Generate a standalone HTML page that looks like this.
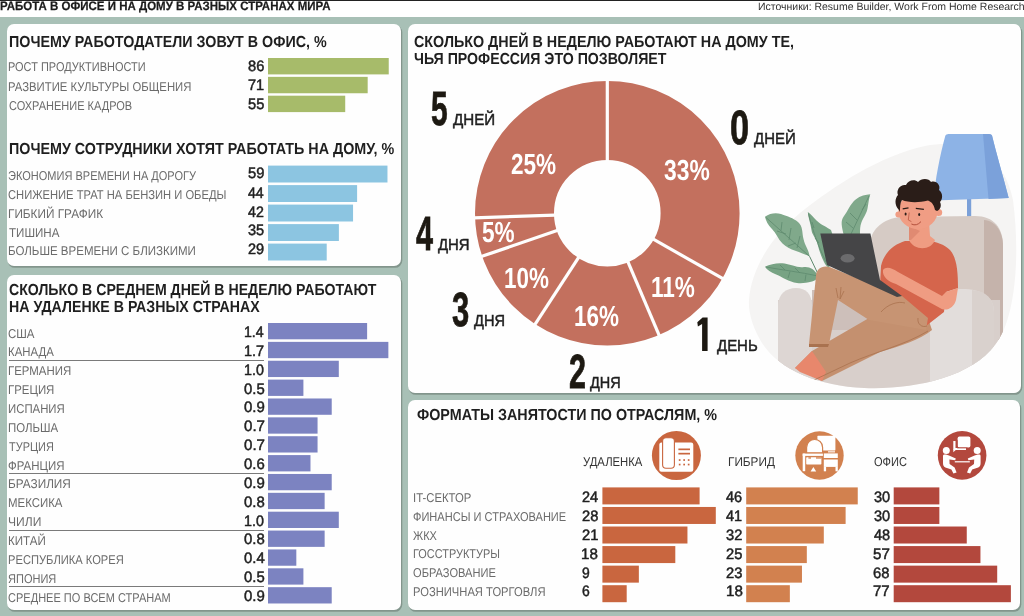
<!DOCTYPE html>
<html lang="ru"><head><meta charset="utf-8"><title>Работа в офисе и на дому</title><style>
html,body{margin:0;padding:0}
body{width:1024px;height:616px;position:relative;overflow:hidden;background:#fff;font-family:"Liberation Sans",sans-serif}
.bg{position:absolute;left:0;top:17px;width:1024px;height:599px;background:#a8c0b6}
.topline{position:absolute;left:0;top:0;width:1024px;height:1px;background:#222}
.p{position:absolute;background:#fefefe;border-radius:7px;box-shadow:0.9px 1.4px 0 0.4px #82958c}
.b{position:absolute}
.sep{position:absolute;height:1px;background:#7a7a7a}
.t{position:absolute;white-space:nowrap;transform-origin:0 0;display:block;text-rendering:geometricPrecision}
svg{position:absolute;left:0;top:0}
</style></head><body>
<div class="topline"></div><div class="bg"></div>
<div class="p" style="left:7px;top:23.5px;width:394.2px;height:242px"></div>
<div class="p" style="left:7px;top:274.5px;width:394.2px;height:335.4px"></div>
<div class="p" style="left:408px;top:23.7px;width:613px;height:369.4px"></div>
<div class="p" style="left:408px;top:399.7px;width:612.4px;height:210.2px"></div>
<div class="sep" style="left:9px;top:359.84px;width:254.8px"></div>
<div class="sep" style="left:9px;top:473.06px;width:254.8px"></div>
<div class="sep" style="left:9px;top:529.67px;width:254.8px"></div>
<div class="sep" style="left:9px;top:586.28px;width:254.8px"></div>
<svg width="1024" height="616" viewBox="0 0 1024 616">
<rect x="268.00" y="58.00" width="120.74" height="16.40" fill="#a7bb6a"/>
<rect x="268.00" y="76.85" width="99.68" height="16.40" fill="#a7bb6a"/>
<rect x="268.00" y="95.70" width="77.22" height="16.40" fill="#a7bb6a"/>
<rect x="268.00" y="165.60" width="119.47" height="16.90" fill="#8cc5e1"/>
<rect x="268.00" y="185.10" width="89.10" height="16.90" fill="#8cc5e1"/>
<rect x="268.00" y="204.60" width="85.05" height="16.90" fill="#8cc5e1"/>
<rect x="268.00" y="224.10" width="70.88" height="16.90" fill="#8cc5e1"/>
<rect x="268.00" y="243.60" width="58.72" height="16.90" fill="#8cc5e1"/>
<rect x="268.00" y="323.00" width="99.12" height="16.30" fill="#7c83c1"/>
<rect x="268.00" y="341.87" width="120.36" height="16.30" fill="#7c83c1"/>
<rect x="268.00" y="360.74" width="70.80" height="16.30" fill="#7c83c1"/>
<rect x="268.00" y="379.61" width="35.40" height="16.30" fill="#7c83c1"/>
<rect x="268.00" y="398.48" width="63.72" height="16.30" fill="#7c83c1"/>
<rect x="268.00" y="417.35" width="49.56" height="16.30" fill="#7c83c1"/>
<rect x="268.00" y="436.22" width="49.56" height="16.30" fill="#7c83c1"/>
<rect x="268.00" y="455.09" width="42.48" height="16.30" fill="#7c83c1"/>
<rect x="268.00" y="473.96" width="63.72" height="16.30" fill="#7c83c1"/>
<rect x="268.00" y="492.83" width="56.64" height="16.30" fill="#7c83c1"/>
<rect x="268.00" y="511.70" width="70.80" height="16.30" fill="#7c83c1"/>
<rect x="268.00" y="530.57" width="56.64" height="16.30" fill="#7c83c1"/>
<rect x="268.00" y="549.44" width="28.32" height="16.30" fill="#7c83c1"/>
<rect x="268.00" y="568.31" width="35.40" height="16.30" fill="#7c83c1"/>
<rect x="268.00" y="587.18" width="63.72" height="16.30" fill="#7c83c1"/>
<rect x="602.40" y="487.40" width="97.20" height="17.00" fill="#c9663f"/>
<rect x="746.20" y="487.40" width="111.55" height="17.00" fill="#d2814f"/>
<rect x="893.70" y="487.40" width="45.66" height="17.00" fill="#b3483d"/>
<rect x="602.40" y="506.96" width="113.40" height="17.00" fill="#c9663f"/>
<rect x="746.20" y="506.96" width="99.42" height="17.00" fill="#d2814f"/>
<rect x="893.70" y="506.96" width="45.66" height="17.00" fill="#b3483d"/>
<rect x="602.40" y="526.52" width="85.05" height="17.00" fill="#c9663f"/>
<rect x="746.20" y="526.52" width="77.60" height="17.00" fill="#d2814f"/>
<rect x="893.70" y="526.52" width="73.06" height="17.00" fill="#b3483d"/>
<rect x="602.40" y="546.08" width="72.90" height="17.00" fill="#c9663f"/>
<rect x="746.20" y="546.08" width="60.62" height="17.00" fill="#d2814f"/>
<rect x="893.70" y="546.08" width="86.75" height="17.00" fill="#b3483d"/>
<rect x="602.40" y="565.64" width="36.45" height="17.00" fill="#c9663f"/>
<rect x="746.20" y="565.64" width="55.77" height="17.00" fill="#d2814f"/>
<rect x="893.70" y="565.64" width="103.50" height="17.00" fill="#b3483d"/>
<rect x="602.40" y="585.20" width="24.30" height="17.00" fill="#c9663f"/>
<rect x="746.20" y="585.20" width="43.65" height="17.00" fill="#d2814f"/>
<rect x="893.70" y="585.20" width="117.19" height="17.00" fill="#b3483d"/>
<circle cx="607.3" cy="213.2" r="92.80000000000001" fill="none" stroke="#c3705e" stroke-width="79.00000000000001"/>
<line x1="607.30" y1="160.90" x2="607.30" y2="79.90" stroke="#fefefe" stroke-width="3.2"/>
<line x1="652.82" y1="238.95" x2="723.32" y2="278.84" stroke="#fefefe" stroke-width="3.2"/>
<line x1="627.74" y1="261.34" x2="659.38" y2="335.90" stroke="#fefefe" stroke-width="3.2"/>
<line x1="578.82" y1="257.06" x2="534.70" y2="324.99" stroke="#fefefe" stroke-width="3.2"/>
<line x1="557.85" y1="230.23" x2="481.26" y2="256.60" stroke="#fefefe" stroke-width="3.2"/>
<line x1="555.03" y1="215.03" x2="474.08" y2="217.85" stroke="#fefefe" stroke-width="3.2"/>
<path d="M702.6,317.6 L707.6,317.6 L707.6,350.9 L702.1,350.9 L702.1,324 L697.9,326.4 L697.3,322.2 Z" fill="#1d1912"/>
<g id="illus">
<defs><clipPath id="blobclip"><path d="M749,300 C751,270 770,238 800,213 C835,185 880,156 925,146 C965,139 1003,150 1013,200 C1021,262 1014,322 995,345 C970,378 912,390 864,388 C820,386 780,371 762,343 C754,330 748,314 749,300 Z"/></clipPath></defs>
<path d="M749,300 C751,270 770,238 800,213 C835,185 880,156 925,146 C965,139 1003,150 1013,200 C1021,262 1014,322 995,345 C970,378 912,390 864,388 C820,386 780,371 762,343 C754,330 748,314 749,300 Z" fill="#f5f4f3"/>
<!-- lamp -->
<rect x="967" y="198" width="4.2" height="22" fill="#7ba0d8"/>
<path d="M945.4,135.5 Q946,134 948.5,134 L989,134 Q991.5,134 992,135.5 C996,152 1003,176 1008.7,198 L933.6,200.6 C935,180 940,155 945.4,135.5 Z" fill="#8db3e6"/>
<path d="M983,134 L989,134 Q991.5,134 992,135.5 C996,152 1003,176 1008.7,198 L988.5,199 Z" fill="#7ba1da"/>
<!-- plant -->
<path d="M809.6,256.4 L818.5,275 M818.5,276 L822,288" stroke="#5e8a6e" stroke-width="1" fill="none"/>
<path d="M764.9,216.8 C770,213 776,212.5 781,214 C788,216.5 793,218 798,222 C803,226 802,233 803.5,239 C805,246 809,250 809.6,256.4 C804,254 800,252.5 796,251 C790,249 786,247 782.5,243.5 C778,239 776,233 772,229 C768,225 766,221 764.9,216.8 Z" fill="#80a98b"/>
<path d="M807.8,212 C811,214 813,217 816.5,220.5 C821,225 827,227 831,230 L836,245 L829,268 C826,266 825,264 824,262 C821,256 819,250 817.5,244 C816,238 812,235 811.4,229.6 C810.5,223 808,217 807.8,212 Z" fill="#78a384"/>
<path d="M870.3,194.3 C866,194.5 860,196 856,199.3 C850,204 848,211 844,216 C840,221 842,227 843.5,234 L860,234 C860,230 860,226 861.4,222.5 C863,218 867,213 867.6,208 C868.5,203 869,198 870.3,194.3 Z" fill="#80a98b"/>
<path d="M764.9,266.8 C771,264 778,262.5 784.6,263.6 C791,264.5 797,268 804,267 C810,266.5 814,269 818.5,276 C817,279 815,281 812,281.5 C806,283 802,283.5 797,283 C789,282 782,277 775.6,274.3 C771,272.5 767,270 764.9,266.8 Z" fill="#78a384"/>
<path d="M766,217.5 L809.6,256.4 M782,222 L781,230.5 M791,228 L789,240 M800,236 L797,248 M786,234 L777,231 M796,243 L788,246 M808.5,213.5 C812,228 818,246 826,262 M814,228 L812,222 M819,243 L815,238 M869,196 L851,234 M862,210 L866,204 M857,220 L850,213 M853,228 L846,222 M766,267 C782,270 800,272 818,276 M785,270 L780,265 M800,273 L795,268 M790,271.5 L788,278 M806,274.5 L805,281" stroke="#5e8a6e" stroke-width="0.8" fill="none"/>
<g clip-path="url(#blobclip)">
<!-- chair back -->
<path d="M870,300 L870,242 C872,228 884,219 900,217 L975,216 C994,216 1003,228 1003,246 L1003,340 L870,340 Z" fill="#d6cbc5"/>
<path d="M984,220 C996,221 1003,232 1003,246 L1003,340 L984,340 Z" fill="#c5b3ab"/>
<!-- chair seat/base -->
<path d="M778,300 L1000,300 L1000,400 L778,400 Z" fill="#d8cfcb"/>
<path d="M812,290 L880,290 L930,330 L812,330 Z" fill="#cdbfba"/>
<!-- left arm -->
<path d="M778,306 C778,294 786,288 796,288 C806,288 812,294 812,306 L812,400 L778,400 Z" fill="#ddd6d3"/>
<!-- right front arm -->
<path d="M930,312 C930,296 944,289 962,289 C982,289 994,297 994,312 L994,400 L930,400 Z" fill="#e2dddb"/>
<path d="M972,290 C986,291 994,299 994,312 L994,400 L972,400 Z" fill="#d9d1cd"/>
<!-- back leg (far) -->
<path d="M869,318 L926,312 L932,330 C920,340 900,346 880,352 L822,381 L795,368 L812,351 Z" fill="#c4906f"/>
<path d="M812,351 L795,368 L800,372 L822,381 L826,372 Z" fill="#e8876c"/>
<!-- torso -->
<path d="M905,241 C895,244 884,252 881,266 L880,285 L905,300 L926,326 L944,312 L946,292 L958,288 C958,272 957,258 950,250 C944,244 936,242 930,241 Z" fill="#d5654c"/>
<!-- neck & head -->
<path d="M909,224 L929,222 L930,236 L935,240 C931,251 914,251 909,240 L910,236 Z" fill="#ef9c82"/>
<path d="M909,226 L920,231 L911,240 L909,240 Z" fill="#e08a72"/>
<ellipse cx="918" cy="211" rx="19.6" ry="18.2" fill="#f09d84"/>
<circle cx="938.6" cy="212.5" r="3.6" fill="#f09d84"/>
<circle cx="898.4" cy="214.5" r="3" fill="#f09d84"/>
<path d="M899,210 C894,205 895,198 898,195 C896,190 900,184 906,185 C908,180 915,179 918,182 C921,178 929,178 931,182 C936,180 941,185 939,190 C943,193 943,199 940,202 C942,206 940,210 937,211 L935,210 C934,205 932,202 928,200.5 C918,203 908,202.5 902,200 C900,203 900,207 900,212 Z" fill="#2a1d18"/>
<path d="M902.7,208.9 L908.5,207.8 M915.8,208.3 L923.9,209.3" stroke="#2a1d18" stroke-width="1.2" fill="none"/>
<ellipse cx="905.6" cy="214" rx="1" ry="1.5" fill="#2a1d18"/><ellipse cx="919.2" cy="214.6" rx="1" ry="1.5" fill="#2a1d18"/>
<path d="M909.2,212.5 L908.3,220 L911.4,221.6" stroke="#c2604a" stroke-width="0.9" fill="none"/>
<path d="M911.4,224 Q916.5,226.6 921,221.6" stroke="#b3503c" stroke-width="1" fill="none"/>
<!-- front leg: thigh + shin -->
<path d="M816,276 C816,268 824,264 832,268 L902,296 L928,318 L926,330 L869,320 L838,300 L829,344 L809,344 Z" fill="#c79473"/>
<path d="M809,344 L829,344 L828,347 L809,347 Z" fill="#a9724f"/>
<path d="M928,331 C905,345 875,352 850,363 L812,381" stroke="#a9724f" stroke-width="0.8" fill="none"/>
<path d="M836,288 L838,298 M841,287 L840,299 L844,291" stroke="#a9724f" stroke-width="0.8" fill="none"/>
<path d="M881,312 C888,304 898,301 905,303 M918,318 C917,324 922,328 927,326" stroke="#a9724f" stroke-width="0.8" fill="none"/>
<!-- laptop -->
<path d="M820.3,233.6 L870.4,233.6 L880,280 L902,296 L897,297 L827,265 Z" fill="#454547"/>
<ellipse cx="847.6" cy="258.2" rx="7" ry="4.3" fill="#6b6b6d"/>
<!-- arm -->
<path d="M946,292 L958,288 L956,300 C954,308 946,312 940,308 L896,284 C888,282 882,276 883,270 C886,266 892,268 898,272 L942,296 Z" fill="#ef9c82"/>
</g>
</g>

<g id="icons">
<!-- icon 1: phone -->
<circle cx="676.4" cy="455.5" r="24.5" fill="#c9663f"/>
<rect x="659.3" y="442.6" width="34" height="29.2" rx="2.2" fill="#fff"/>
<rect x="662.6" y="437.8" width="11.8" height="30.4" rx="3.4" fill="#fff" stroke="#c9663f" stroke-width="1.1"/>
<rect x="678.4" y="448.5" width="11.6" height="1.7" fill="#c9663f"/>
<rect x="678.4" y="452.8" width="11.6" height="1.7" fill="#c9663f"/>
<g fill="#c9663f"><rect x="678.8" y="459.2" width="1.7" height="1.7"/><rect x="683.3" y="459.2" width="1.7" height="1.7"/><rect x="687.8" y="459.2" width="1.7" height="1.7"/><rect x="678.8" y="463.7" width="1.7" height="1.7"/><rect x="683.3" y="463.7" width="1.7" height="1.7"/><rect x="687.8" y="463.7" width="1.7" height="1.7"/></g>
<!-- icon 2: desk -->
<circle cx="819.5" cy="455.5" r="24.2" fill="#d2814f"/>
<g fill="#fff">
<rect x="817.4" y="435.8" width="18" height="14.6" rx="0.6"/>
<rect x="828" y="451.3" width="7" height="1.1"/>
<rect x="823.8" y="453.4" width="14" height="4.6"/>
<rect x="823.8" y="459.5" width="14" height="7.4"/>
<rect x="823.8" y="466.8" width="2.3" height="4.5"/><rect x="835.5" y="466.8" width="2.3" height="4.5"/>
<path d="M806.6,452.8 L806.6,447.6 C806.6,436.8 822.6,436.8 822.6,447.6 L822.6,452.8 Z" stroke="#d2814f" stroke-width="1.2"/>
<rect x="802.7" y="453.6" width="20.2" height="2.3"/>
<rect x="802.7" y="453.6" width="2.5" height="17.6"/>
<rect x="806.2" y="457.3" width="15.2" height="7.3" rx="0.8"/>
<path d="M813.4,467 L816.2,471.4 L810.6,471.4 Z"/>
</g>
<rect x="808.4" y="457.3" width="2.6" height="1.3" fill="#d2814f"/><rect x="816" y="457.3" width="5.4" height="1.3" fill="#d2814f"/>
<!-- icon 3: meeting -->
<circle cx="962.1" cy="455.4" r="24.3" fill="#b3483d"/>
<g fill="#fff">
<circle cx="946.3" cy="450.6" r="3.5"/><circle cx="977.2" cy="450.6" r="3.5"/>
<path d="M943,456 C943,454.6 944.4,454.4 946,454.6 L949,455.4 L955.8,458.4 L955.2,460.2 L949.4,459.6 L949.6,464 L954.6,467.6 L956.6,472.6 L953.4,473.6 L951.4,469.6 L945.4,467.4 C943.6,466.6 943,465 943,463 Z"/>
<path d="M980.6,456 C980.6,454.6 979.2,454.4 977.6,454.6 L974.6,455.4 L967.8,458.4 L968.4,460.2 L974.2,459.6 L974,464 L969,467.6 L967,472.6 L970.2,473.6 L972.2,469.6 L978.2,467.4 C980,466.6 980.6,465 980.6,463 Z"/>
<rect x="954.8" y="461.2" width="15" height="1.2"/>
<rect x="957.6" y="436.6" width="12.8" height="11" rx="1.8"/>
<path d="M954.4,441 L954.4,449 L966,449" fill="none" stroke="#fff" stroke-width="2.2" stroke-linejoin="round"/>
<path d="M953.3,449 L956.8,449 L953.3,452.2 Z"/>
<path d="M957.2,440.2 L957.2,447.9 L967.5,447.9" fill="none" stroke="#b3483d" stroke-width="0.9"/>
</g>
</g>

</svg>
<div id="txt" style="position:absolute;left:0;top:0;width:1024px;height:616px;will-change:transform"><span class="t" style="left:0.42px;top:0px;font-size:12.35px;line-height:12.35px;font-weight:700;color:#1a1a1a;transform:scaleX(0.9319);-webkit-text-stroke:0.25px #1f1f1f;">РАБОТА В ОФИСЕ И НА ДОМУ В РАЗНЫХ СТРАНАХ МИРА</span>
<span class="t" style="left:758.22px;top:3px;font-size:10.47px;line-height:10.47px;font-weight:400;color:#333;transform:scaleX(1.0019);">Источники: Resume Builder, Work From Home Research</span>
<span class="t" style="left:8.50px;top:35px;font-size:15.99px;line-height:15.99px;font-weight:700;color:#1f1f1f;transform:scaleX(0.8949);">ПОЧЕМУ РАБОТОДАТЕЛИ ЗОВУТ В ОФИС, %</span>
<span class="t" style="left:8.21px;top:61px;font-size:12.79px;line-height:12.79px;font-weight:400;color:#6b6b6b;transform:scaleX(0.8583);">РОСТ ПРОДУКТИВНОСТИ</span>
<span class="t" style="left:8.00px;top:81px;font-size:12.79px;line-height:12.79px;font-weight:400;color:#6b6b6b;transform:scaleX(0.8852);">РАЗВИТИЕ КУЛЬТУРЫ ОБЩЕНИЯ</span>
<span class="t" style="left:8.50px;top:100px;font-size:12.79px;line-height:12.79px;font-weight:400;color:#6b6b6b;transform:scaleX(0.8609);">СОХРАНЕНИЕ КАДРОВ</span>
<span class="t" style="left:247.69px;top:59px;font-size:15.14px;line-height:15.14px;font-weight:400;color:#1f1f1f;transform:scaleX(0.9711);-webkit-text-stroke:0.5px #1f1f1f;">86</span>
<span class="t" style="left:247.62px;top:78px;font-size:15.14px;line-height:15.14px;font-weight:400;color:#1f1f1f;transform:scaleX(0.9615);-webkit-text-stroke:0.5px #1f1f1f;">71</span>
<span class="t" style="left:247.54px;top:97px;font-size:15.14px;line-height:15.14px;font-weight:400;color:#1f1f1f;transform:scaleX(0.9671);-webkit-text-stroke:0.5px #1f1f1f;">55</span>
<span class="t" style="left:8.70px;top:142px;font-size:15.99px;line-height:15.99px;font-weight:700;color:#1f1f1f;transform:scaleX(0.8951);">ПОЧЕМУ СОТРУДНИКИ ХОТЯТ РАБОТАТЬ НА ДОМУ, %</span>
<span class="t" style="left:7.98px;top:170px;font-size:12.79px;line-height:12.79px;font-weight:400;color:#6b6b6b;transform:scaleX(0.8621);">ЭКОНОМИЯ ВРЕМЕНИ НА ДОРОГУ</span>
<span class="t" style="left:8.47px;top:189px;font-size:12.79px;line-height:12.79px;font-weight:400;color:#6b6b6b;transform:scaleX(0.8751);">СНИЖЕНИЕ ТРАТ НА БЕНЗИН И ОБЕДЫ</span>
<span class="t" style="left:8.00px;top:208px;font-size:12.79px;line-height:12.79px;font-weight:400;color:#6b6b6b;transform:scaleX(0.9232);">ГИБКИЙ ГРАФИК</span>
<span class="t" style="left:8.64px;top:227px;font-size:12.79px;line-height:12.79px;font-weight:400;color:#6b6b6b;transform:scaleX(0.9055);">ТИШИНА</span>
<span class="t" style="left:8.00px;top:245px;font-size:12.79px;line-height:12.79px;font-weight:400;color:#6b6b6b;transform:scaleX(0.9021);">БОЛЬШЕ ВРЕМЕНИ С БЛИЗКИМИ</span>
<span class="t" style="left:247.53px;top:166px;font-size:15.14px;line-height:15.14px;font-weight:400;color:#1f1f1f;transform:scaleX(0.9725);-webkit-text-stroke:0.5px #1f1f1f;">59</span>
<span class="t" style="left:247.98px;top:186px;font-size:15.14px;line-height:15.14px;font-weight:400;color:#1f1f1f;transform:scaleX(0.9344);-webkit-text-stroke:0.5px #1f1f1f;">44</span>
<span class="t" style="left:248.00px;top:205px;font-size:15.14px;line-height:15.14px;font-weight:400;color:#1f1f1f;transform:scaleX(0.9389);-webkit-text-stroke:0.5px #1f1f1f;">42</span>
<span class="t" style="left:247.74px;top:223px;font-size:15.14px;line-height:15.14px;font-weight:400;color:#1f1f1f;transform:scaleX(0.9613);-webkit-text-stroke:0.5px #1f1f1f;">35</span>
<span class="t" style="left:247.65px;top:242px;font-size:15.14px;line-height:15.14px;font-weight:400;color:#1f1f1f;transform:scaleX(0.9610);-webkit-text-stroke:0.5px #1f1f1f;">29</span>
<span class="t" style="left:9.48px;top:283px;font-size:15.99px;line-height:15.99px;font-weight:700;color:#1f1f1f;transform:scaleX(0.8837);">СКОЛЬКО В СРЕДНЕМ ДНЕЙ В НЕДЕЛЮ РАБОТАЮТ</span>
<span class="t" style="left:9.00px;top:300px;font-size:15.99px;line-height:15.99px;font-weight:700;color:#1f1f1f;transform:scaleX(0.8870);">НА УДАЛЕНКЕ В РАЗНЫХ СТРАНАХ</span>
<span class="t" style="left:8.47px;top:328px;font-size:12.79px;line-height:12.79px;font-weight:400;color:#6b6b6b;transform:scaleX(0.9009);">США</span>
<span class="t" style="left:244.30px;top:325px;font-size:15.14px;line-height:15.14px;font-weight:400;color:#1f1f1f;transform:scaleX(0.9351);-webkit-text-stroke:0.5px #1f1f1f;">1.4</span>
<span class="t" style="left:8.00px;top:346px;font-size:12.79px;line-height:12.79px;font-weight:400;color:#6b6b6b;transform:scaleX(0.8911);">КАНАДА</span>
<span class="t" style="left:244.27px;top:344px;font-size:15.14px;line-height:15.14px;font-weight:400;color:#1f1f1f;transform:scaleX(0.9560);-webkit-text-stroke:0.5px #1f1f1f;">1.7</span>
<span class="t" style="left:8.00px;top:365px;font-size:12.79px;line-height:12.79px;font-weight:400;color:#6b6b6b;transform:scaleX(0.8942);">ГЕРМАНИЯ</span>
<span class="t" style="left:244.28px;top:363px;font-size:15.14px;line-height:15.14px;font-weight:400;color:#1f1f1f;transform:scaleX(0.9435);-webkit-text-stroke:0.5px #1f1f1f;">1.0</span>
<span class="t" style="left:8.00px;top:384px;font-size:12.79px;line-height:12.79px;font-weight:400;color:#6b6b6b;transform:scaleX(0.8943);">ГРЕЦИЯ</span>
<span class="t" style="left:243.51px;top:382px;font-size:15.14px;line-height:15.14px;font-weight:400;color:#1f1f1f;transform:scaleX(0.9819);-webkit-text-stroke:0.5px #1f1f1f;">0.5</span>
<span class="t" style="left:8.00px;top:403px;font-size:12.79px;line-height:12.79px;font-weight:400;color:#6b6b6b;transform:scaleX(0.8898);">ИСПАНИЯ</span>
<span class="t" style="left:243.51px;top:400px;font-size:15.14px;line-height:15.14px;font-weight:400;color:#1f1f1f;transform:scaleX(0.9884);-webkit-text-stroke:0.5px #1f1f1f;">0.9</span>
<span class="t" style="left:8.00px;top:422px;font-size:12.79px;line-height:12.79px;font-weight:400;color:#6b6b6b;transform:scaleX(0.8954);">ПОЛЬША</span>
<span class="t" style="left:243.51px;top:419px;font-size:15.14px;line-height:15.14px;font-weight:400;color:#1f1f1f;transform:scaleX(0.9960);-webkit-text-stroke:0.5px #1f1f1f;">0.7</span>
<span class="t" style="left:8.67px;top:441px;font-size:12.79px;line-height:12.79px;font-weight:400;color:#6b6b6b;transform:scaleX(0.8562);">ТУРЦИЯ</span>
<span class="t" style="left:243.51px;top:438px;font-size:15.14px;line-height:15.14px;font-weight:400;color:#1f1f1f;transform:scaleX(0.9960);-webkit-text-stroke:0.5px #1f1f1f;">0.7</span>
<span class="t" style="left:8.39px;top:460px;font-size:12.79px;line-height:12.79px;font-weight:400;color:#6b6b6b;transform:scaleX(0.8958);">ФРАНЦИЯ</span>
<span class="t" style="left:243.51px;top:457px;font-size:15.14px;line-height:15.14px;font-weight:400;color:#1f1f1f;transform:scaleX(0.9841);-webkit-text-stroke:0.5px #1f1f1f;">0.6</span>
<span class="t" style="left:8.00px;top:478px;font-size:12.79px;line-height:12.79px;font-weight:400;color:#6b6b6b;transform:scaleX(0.9222);">БРАЗИЛИЯ</span>
<span class="t" style="left:243.51px;top:476px;font-size:15.14px;line-height:15.14px;font-weight:400;color:#1f1f1f;transform:scaleX(0.9884);-webkit-text-stroke:0.5px #1f1f1f;">0.9</span>
<span class="t" style="left:8.00px;top:497px;font-size:12.79px;line-height:12.79px;font-weight:400;color:#6b6b6b;transform:scaleX(0.8951);">МЕКСИКА</span>
<span class="t" style="left:243.51px;top:495px;font-size:15.14px;line-height:15.14px;font-weight:400;color:#1f1f1f;transform:scaleX(0.9862);-webkit-text-stroke:0.5px #1f1f1f;">0.8</span>
<span class="t" style="left:8.00px;top:516px;font-size:12.79px;line-height:12.79px;font-weight:400;color:#6b6b6b;transform:scaleX(0.9441);">ЧИЛИ</span>
<span class="t" style="left:244.28px;top:514px;font-size:15.14px;line-height:15.14px;font-weight:400;color:#1f1f1f;transform:scaleX(0.9435);-webkit-text-stroke:0.5px #1f1f1f;">1.0</span>
<span class="t" style="left:8.00px;top:535px;font-size:12.79px;line-height:12.79px;font-weight:400;color:#6b6b6b;transform:scaleX(0.9045);">КИТАЙ</span>
<span class="t" style="left:243.51px;top:532px;font-size:15.14px;line-height:15.14px;font-weight:400;color:#1f1f1f;transform:scaleX(0.9862);-webkit-text-stroke:0.5px #1f1f1f;">0.8</span>
<span class="t" style="left:8.00px;top:554px;font-size:12.79px;line-height:12.79px;font-weight:400;color:#6b6b6b;transform:scaleX(0.8734);">РЕСПУБЛИКА КОРЕЯ</span>
<span class="t" style="left:243.51px;top:551px;font-size:15.14px;line-height:15.14px;font-weight:400;color:#1f1f1f;transform:scaleX(0.9823);-webkit-text-stroke:0.5px #1f1f1f;">0.4</span>
<span class="t" style="left:8.30px;top:573px;font-size:12.79px;line-height:12.79px;font-weight:400;color:#6b6b6b;transform:scaleX(0.8625);">ЯПОНИЯ</span>
<span class="t" style="left:243.51px;top:570px;font-size:15.14px;line-height:15.14px;font-weight:400;color:#1f1f1f;transform:scaleX(0.9819);-webkit-text-stroke:0.5px #1f1f1f;">0.5</span>
<span class="t" style="left:8.49px;top:592px;font-size:12.79px;line-height:12.79px;font-weight:400;color:#6b6b6b;transform:scaleX(0.8624);">СРЕДНЕЕ ПО ВСЕМ СТРАНАМ</span>
<span class="t" style="left:243.51px;top:589px;font-size:15.14px;line-height:15.14px;font-weight:400;color:#1f1f1f;transform:scaleX(0.9884);-webkit-text-stroke:0.5px #1f1f1f;">0.9</span>
<span class="t" style="left:413.78px;top:35px;font-size:15.99px;line-height:15.99px;font-weight:700;color:#1f1f1f;transform:scaleX(0.8966);">СКОЛЬКО ДНЕЙ В НЕДЕЛЮ РАБОТАЮТ НА ДОМУ ТЕ,</span>
<span class="t" style="left:413.62px;top:52px;font-size:15.99px;line-height:15.99px;font-weight:700;color:#1f1f1f;transform:scaleX(0.8855);">ЧЬЯ ПРОФЕССИЯ ЭТО ПОЗВОЛЯЕТ</span>
<span class="t" style="left:431.33px;top:86px;font-size:48.00px;line-height:48.00px;font-weight:700;color:#1d1912;transform:scaleX(0.6251);-webkit-text-stroke:0.8px #1d1912;">5</span>
<span class="t" style="left:453.25px;top:113px;font-size:15.99px;line-height:15.99px;font-weight:400;color:#1f1f1f;transform:scaleX(0.9480);-webkit-text-stroke:0.5px #1f1f1f;">ДНЕЙ</span>
<span class="t" style="left:730.48px;top:105px;font-size:48.00px;line-height:48.00px;font-weight:700;color:#1d1912;transform:scaleX(0.7151);-webkit-text-stroke:0.8px #1d1912;">0</span>
<span class="t" style="left:753.84px;top:132px;font-size:15.99px;line-height:15.99px;font-weight:400;color:#1f1f1f;transform:scaleX(0.9354);-webkit-text-stroke:0.5px #1f1f1f;">ДНЕЙ</span>
<span class="t" style="left:415.65px;top:211px;font-size:48.00px;line-height:48.00px;font-weight:700;color:#1d1912;transform:scaleX(0.6370);-webkit-text-stroke:0.8px #1d1912;">4</span>
<span class="t" style="left:438.15px;top:238px;font-size:15.99px;line-height:15.99px;font-weight:400;color:#1f1f1f;transform:scaleX(0.9327);-webkit-text-stroke:0.5px #1f1f1f;">ДНЯ</span>
<span class="t" style="left:452.13px;top:287px;font-size:48.00px;line-height:48.00px;font-weight:700;color:#1d1912;transform:scaleX(0.6444);-webkit-text-stroke:0.8px #1d1912;">3</span>
<span class="t" style="left:474.25px;top:314px;font-size:15.99px;line-height:15.99px;font-weight:400;color:#1f1f1f;transform:scaleX(0.9128);-webkit-text-stroke:0.5px #1f1f1f;">ДНЯ</span>
<span class="t" style="left:568.74px;top:349px;font-size:48.00px;line-height:48.00px;font-weight:700;color:#1d1912;transform:scaleX(0.6350);-webkit-text-stroke:0.8px #1d1912;">2</span>
<span class="t" style="left:589.95px;top:376px;font-size:15.99px;line-height:15.99px;font-weight:400;color:#1f1f1f;transform:scaleX(0.9053);-webkit-text-stroke:0.5px #1f1f1f;">ДНЯ</span>
<span class="t" style="left:717.25px;top:339px;font-size:15.99px;line-height:15.99px;font-weight:400;color:#1f1f1f;transform:scaleX(0.9359);-webkit-text-stroke:0.5px #1f1f1f;">ДЕНЬ</span>
<span class="t" style="left:664.39px;top:157px;font-size:29.00px;line-height:29.00px;font-weight:700;color:#fff;transform:scaleX(0.7877);">33%</span>
<span class="t" style="left:511.30px;top:151px;font-size:29.00px;line-height:29.00px;font-weight:700;color:#fff;transform:scaleX(0.7769);">25%</span>
<span class="t" style="left:481.99px;top:219px;font-size:29.00px;line-height:29.00px;font-weight:700;color:#fff;transform:scaleX(0.7787);">5%</span>
<span class="t" style="left:504.10px;top:265px;font-size:29.00px;line-height:29.00px;font-weight:700;color:#fff;transform:scaleX(0.7731);">10%</span>
<span class="t" style="left:573.90px;top:303px;font-size:29.00px;line-height:29.00px;font-weight:700;color:#fff;transform:scaleX(0.7740);">16%</span>
<span class="t" style="left:650.68px;top:274px;font-size:29.00px;line-height:29.00px;font-weight:700;color:#fff;transform:scaleX(0.7782);">11%</span>
<span class="t" style="left:416.54px;top:408px;font-size:15.99px;line-height:15.99px;font-weight:700;color:#1f1f1f;transform:scaleX(0.8958);">ФОРМАТЫ ЗАНЯТОСТИ ПО ОТРАСЛЯМ, %</span>
<span class="t" style="left:582.93px;top:456px;font-size:12.79px;line-height:12.79px;font-weight:400;color:#333;transform:scaleX(0.8849);">УДАЛЕНКА</span>
<span class="t" style="left:727.60px;top:456px;font-size:12.79px;line-height:12.79px;font-weight:400;color:#333;transform:scaleX(0.9224);">ГИБРИД</span>
<span class="t" style="left:873.73px;top:456px;font-size:12.79px;line-height:12.79px;font-weight:400;color:#333;transform:scaleX(0.8661);">ОФИС</span>
<span class="t" style="left:412.66px;top:492px;font-size:12.79px;line-height:12.79px;font-weight:400;color:#6b6b6b;transform:scaleX(0.8880);">IT-СЕКТОР</span>
<span class="t" style="left:581.65px;top:490px;font-size:15.14px;line-height:15.14px;font-weight:400;color:#1f1f1f;transform:scaleX(0.9579);-webkit-text-stroke:0.5px #1f1f1f;">24</span>
<span class="t" style="left:726.25px;top:490px;font-size:15.14px;line-height:15.14px;font-weight:400;color:#1f1f1f;transform:scaleX(0.9584);-webkit-text-stroke:0.5px #1f1f1f;">46</span>
<span class="t" style="left:873.50px;top:490px;font-size:15.14px;line-height:15.14px;font-weight:400;color:#1f1f1f;transform:scaleX(0.9608);-webkit-text-stroke:0.5px #1f1f1f;">30</span>
<span class="t" style="left:413.10px;top:511px;font-size:12.79px;line-height:12.79px;font-weight:400;color:#6b6b6b;transform:scaleX(0.8647);">ФИНАНСЫ И СТРАХОВАНИЕ</span>
<span class="t" style="left:581.64px;top:509px;font-size:15.14px;line-height:15.14px;font-weight:400;color:#1f1f1f;transform:scaleX(0.9724);-webkit-text-stroke:0.5px #1f1f1f;">28</span>
<span class="t" style="left:726.25px;top:509px;font-size:15.14px;line-height:15.14px;font-weight:400;color:#1f1f1f;transform:scaleX(0.9557);-webkit-text-stroke:0.5px #1f1f1f;">41</span>
<span class="t" style="left:873.50px;top:509px;font-size:15.14px;line-height:15.14px;font-weight:400;color:#1f1f1f;transform:scaleX(0.9608);-webkit-text-stroke:0.5px #1f1f1f;">30</span>
<span class="t" style="left:413.37px;top:530px;font-size:12.79px;line-height:12.79px;font-weight:400;color:#6b6b6b;transform:scaleX(0.8605);">ЖКХ</span>
<span class="t" style="left:581.64px;top:528px;font-size:15.14px;line-height:15.14px;font-weight:400;color:#1f1f1f;transform:scaleX(0.9743);-webkit-text-stroke:0.5px #1f1f1f;">21</span>
<span class="t" style="left:726.00px;top:528px;font-size:15.14px;line-height:15.14px;font-weight:400;color:#1f1f1f;transform:scaleX(0.9689);-webkit-text-stroke:0.5px #1f1f1f;">32</span>
<span class="t" style="left:873.75px;top:528px;font-size:15.14px;line-height:15.14px;font-weight:400;color:#1f1f1f;transform:scaleX(0.9590);-webkit-text-stroke:0.5px #1f1f1f;">48</span>
<span class="t" style="left:412.92px;top:548px;font-size:12.79px;line-height:12.79px;font-weight:400;color:#6b6b6b;transform:scaleX(0.8565);">ГОССТРУКТУРЫ</span>
<span class="t" style="left:581.25px;top:547px;font-size:15.14px;line-height:15.14px;font-weight:400;color:#1f1f1f;transform:scaleX(1.0011);-webkit-text-stroke:0.5px #1f1f1f;">18</span>
<span class="t" style="left:725.89px;top:547px;font-size:15.14px;line-height:15.14px;font-weight:400;color:#1f1f1f;transform:scaleX(0.9700);-webkit-text-stroke:0.5px #1f1f1f;">25</span>
<span class="t" style="left:873.27px;top:547px;font-size:15.14px;line-height:15.14px;font-weight:400;color:#1f1f1f;transform:scaleX(0.9969);-webkit-text-stroke:0.5px #1f1f1f;">57</span>
<span class="t" style="left:413.24px;top:567px;font-size:12.79px;line-height:12.79px;font-weight:400;color:#6b6b6b;transform:scaleX(0.8685);">ОБРАЗОВАНИЕ</span>
<span class="t" style="left:581.66px;top:566px;font-size:15.14px;line-height:15.14px;font-weight:400;color:#1f1f1f;transform:scaleX(0.9181);-webkit-text-stroke:0.5px #1f1f1f;">9</span>
<span class="t" style="left:725.89px;top:566px;font-size:15.14px;line-height:15.14px;font-weight:400;color:#1f1f1f;transform:scaleX(0.9718);-webkit-text-stroke:0.5px #1f1f1f;">23</span>
<span class="t" style="left:873.34px;top:566px;font-size:15.14px;line-height:15.14px;font-weight:400;color:#1f1f1f;transform:scaleX(0.9786);-webkit-text-stroke:0.5px #1f1f1f;">68</span>
<span class="t" style="left:412.70px;top:586px;font-size:12.79px;line-height:12.79px;font-weight:400;color:#6b6b6b;transform:scaleX(0.8762);">РОЗНИЧНАЯ ТОРГОВЛЯ</span>
<span class="t" style="left:581.61px;top:584px;font-size:15.14px;line-height:15.14px;font-weight:400;color:#1f1f1f;transform:scaleX(0.9220);-webkit-text-stroke:0.5px #1f1f1f;">6</span>
<span class="t" style="left:725.50px;top:584px;font-size:15.14px;line-height:15.14px;font-weight:400;color:#1f1f1f;transform:scaleX(1.0011);-webkit-text-stroke:0.5px #1f1f1f;">18</span>
<span class="t" style="left:873.35px;top:584px;font-size:15.14px;line-height:15.14px;font-weight:400;color:#1f1f1f;transform:scaleX(0.9883);-webkit-text-stroke:0.5px #1f1f1f;">77</span></div>
</body></html>
